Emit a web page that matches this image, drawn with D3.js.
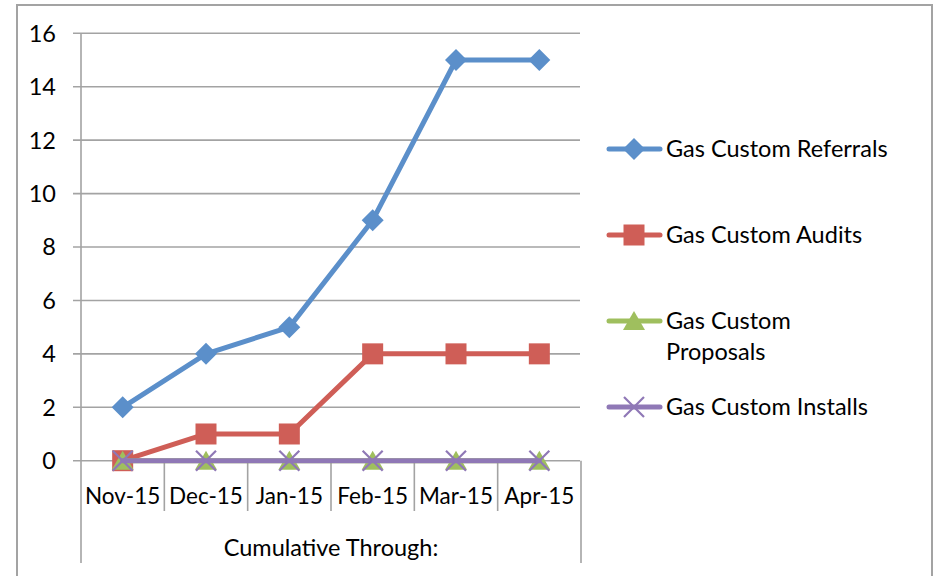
<!DOCTYPE html>
<html>
<head>
<meta charset="utf-8">
<script src="https://cdn.jsdelivr.net/npm/d3@7"></script>
<style>
  html, body { margin: 0; padding: 0; background: #fff; }
  svg { display: block; font-family: Lato, "Open Sans", sans-serif; }
</style>
</head>
<body>
<svg id="chart" width="936" height="576"></svg>
<script>
// Monthly categories and cumulative counts per series
const categories = ["Nov-15", "Dec-15", "Jan-15", "Feb-15", "Mar-15", "Apr-15"];
const referrals = [2, 4, 5, 9, 15, 15];
const audits = [0, 1, 1, 4, 4, 4];
const proposals = [0, 0, 0, 0, 0, 0];
const installs = [0, 0, 0, 0, 0, 0];
const yTicks = [0, 2, 4, 6, 8, 10, 12, 14, 16];
const axisTitle = "Cumulative Through:";

const series = [
  { name: ["Gas Custom Referrals"], values: referrals, color: "#5b8fca", marker: "diamond", ly: 149 },
  { name: ["Gas Custom Audits"], values: audits, color: "#cf5e57", marker: "square", ly: 235 },
  { name: ["Gas Custom", "Proposals"], values: proposals, color: "#9fbf5e", marker: "triangle", ly: 321 },
  { name: ["Gas Custom Installs"], values: installs, color: "#8f78b6", marker: "x", ly: 407 }
];

const svg = d3.select("#chart");
const gridColor = "#a3a3a3";
const fontSize = 23.5;

// Chart frame
svg.append("rect")
  .attr("x", 17).attr("y", 5).attr("width", 915).attr("height", 600)
  .attr("fill", "none").attr("stroke", gridColor).attr("stroke-width", 2);

const plot = { left: 81, right: 581, top: 33.3, bottom: 460.7 };

const x = d3.scaleBand().domain(categories).range([plot.left, plot.right]);
const y = d3.scaleLinear().domain([0, 16]).range([plot.bottom, plot.top]);

// Horizontal gridlines with tick stubs
svg.append("g").selectAll("line").data(yTicks).join("line")
  .attr("x1", plot.left - 8).attr("x2", plot.right - 1)
  .attr("y1", d => y(d)).attr("y2", d => y(d))
  .attr("stroke", gridColor).attr("stroke-width", 1.6);

// Y tick labels
svg.append("g").selectAll("text").data(yTicks).join("text")
  .attr("x", 56).attr("y", d => y(d))
  .attr("dy", "0.36em").attr("text-anchor", "end")
  .attr("font-size", fontSize).attr("fill", "#000")
  .text(d => d);

// Y axis line extending into the category box
svg.append("line")
  .attr("x1", plot.left).attr("x2", plot.left)
  .attr("y1", plot.top).attr("y2", 563)
  .attr("stroke", gridColor).attr("stroke-width", 1.6);

// Right edge of category box
svg.append("line")
  .attr("x1", plot.right).attr("x2", plot.right)
  .attr("y1", plot.bottom).attr("y2", 563)
  .attr("stroke", gridColor).attr("stroke-width", 1.6);

// Category dividers
svg.append("g").selectAll("line").data(categories.slice(1)).join("line")
  .attr("x1", d => x(d)).attr("x2", d => x(d))
  .attr("y1", plot.bottom).attr("y2", 511)
  .attr("stroke", gridColor).attr("stroke-width", 1.6);

// Category labels
svg.append("g").selectAll("text").data(categories).join("text")
  .attr("x", d => x(d) + x.bandwidth() / 2).attr("y", 504)
  .attr("text-anchor", "middle").attr("font-size", 22.5).attr("fill", "#000")
  .text(d => d);

// Outer category title
svg.append("text")
  .attr("x", (plot.left + plot.right) / 2).attr("y", 556)
  .attr("text-anchor", "middle").attr("font-size", fontSize).attr("fill", "#000")
  .text(axisTitle);

// Marker drawing
function drawMarker(g, type, cx, cy, color) {
  if (type === "diamond") {
    g.append("path").attr("d", `M${cx},${cy - 11}L${cx + 11},${cy}L${cx},${cy + 11}L${cx - 11},${cy}Z`)
      .attr("fill", color);
  } else if (type === "square") {
    g.append("rect").attr("x", cx - 10.5).attr("y", cy - 10.5).attr("width", 21).attr("height", 21)
      .attr("fill", color);
  } else if (type === "triangle") {
    g.append("path").attr("d", `M${cx},${cy - 10}L${cx + 11},${cy + 9}L${cx - 11},${cy + 9}Z`)
      .attr("fill", color);
  } else if (type === "x") {
    g.append("path").attr("d", `M${cx - 10},${cy - 10}L${cx + 10},${cy + 10}M${cx + 10},${cy - 10}L${cx - 10},${cy + 10}`)
      .attr("stroke", color).attr("stroke-width", 2.2).attr("fill", "none");
  }
}

const line = d3.line()
  .x((d, i) => x(categories[i]) + x.bandwidth() / 2)
  .y(d => y(d));

series.forEach(s => {
  const g = svg.append("g");
  g.append("path").datum(s.values)
    .attr("d", line).attr("fill", "none")
    .attr("stroke", s.color).attr("stroke-width", 5)
    .attr("stroke-linejoin", "round").attr("stroke-linecap", "round");
  s.values.forEach((v, i) => {
    drawMarker(g, s.marker, x(categories[i]) + x.bandwidth() / 2, y(v), s.color);
  });
});

// Legend
series.forEach(s => {
  const g = svg.append("g");
  g.append("line").attr("x1", 609).attr("x2", 660).attr("y1", s.ly).attr("y2", s.ly)
    .attr("stroke", s.color).attr("stroke-width", 5).attr("stroke-linecap", "round");
  drawMarker(g, s.marker, 634, s.ly, s.color);
  const t = g.append("text").attr("x", 666).attr("y", s.ly).attr("font-size", fontSize).attr("fill", "#000");
  s.name.forEach((n, i) => {
    t.append("tspan").attr("x", 666).attr("dy", i === 0 ? "0.36em" : "1.32em").text(n);
  });
});
</script>
</body>
</html>
